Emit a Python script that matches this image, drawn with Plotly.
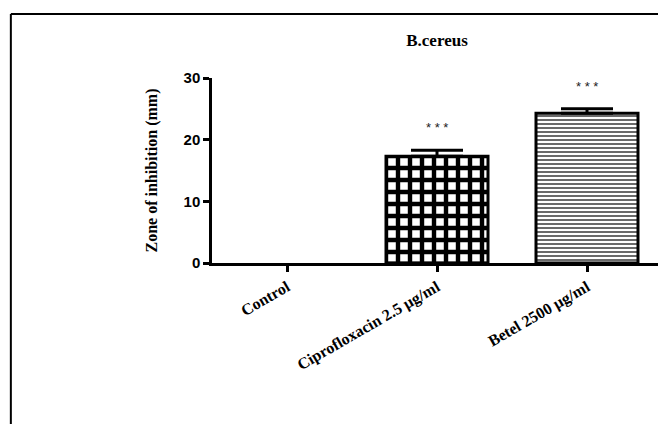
import plotly.graph_objects as go

categories = ["Control", "Ciprofloxacin 2.5 µg/ml", "Betel 2500 µg/ml"]
means = [0, 17.3, 24.3]
errors = [0, 1.0, 0.7]
stars = ["", "* * *", "* * *"]
y_ticks = [0, 10, 20, 30]
title_text = "B.cereus"
y_label = "Zone of inhibition (mm)"

patterns = ["", "+", "-"]
pat_fg = ["black", "black", "#3a3a3a"]
pat_size = [8, 12, 4]
pat_sol = [0.3, 0.6, 0.38]

fig = go.Figure()
for i, c in enumerate(categories):
    fig.add_trace(go.Bar(
        x=[c], y=[means[i]],
        width=0.68,
        marker=dict(
            color="white",
            line=dict(color="black", width=3 if means[i] > 0 else 0),
            pattern=dict(shape=patterns[i], fgcolor=pat_fg[i], bgcolor="white",
                         fgopacity=1, size=pat_size[i], solidity=pat_sol[i],
                         fillmode="overlay"),
        ),
        error_y=dict(type="data", symmetric=False, array=[errors[i]], arrayminus=[0],
                     color="black", thickness=3, width=26, visible=means[i] > 0),
        showlegend=False,
        hoverinfo="skip",
    ))

for i, c in enumerate(categories):
    if stars[i]:
        fig.add_annotation(x=c, y=means[i] + errors[i], text=stars[i], showarrow=False,
                           yanchor="bottom", yshift=13,
                           font=dict(family="Liberation Sans", size=13, color="#222222"))

# outer frame (top and left edges visible)
fig.add_shape(type="line", xref="paper", yref="paper", x0=-0.447, x1=1.05, y0=1.346, y1=1.346,
              line=dict(color="black", width=2))
fig.add_shape(type="line", xref="paper", yref="paper", x0=-0.447, x1=-0.447, y0=1.346, y1=-0.95,
              line=dict(color="black", width=2))

W, H = 658, 416
fig.update_layout(
    width=W, height=H,
    margin=dict(l=204, r=4, t=70, b=161),
    paper_bgcolor="white", plot_bgcolor="white",
    title=dict(text="<b>" + title_text + "</b>", x=429 / W, xanchor="center",
               y=1 - 32 / H, yanchor="middle",
               font=dict(family="Liberation Serif", size=17, color="black")),
    xaxis=dict(
        range=[-0.5, 2.5], showline=True, linecolor="black", linewidth=2.5,
        ticks="outside", ticklen=6, tickwidth=2.5, tickcolor="black",
        tickangle=-30, showgrid=False, zeroline=False,
        tickfont=dict(family="Liberation Serif", size=16, color="black"),
        ticktext=["<b>" + c + "</b>" for c in categories], tickvals=categories,
    ),
    yaxis=dict(
        range=[0, 30], tickvals=y_ticks, showline=True, linecolor="black", linewidth=2.5,
        ticks="outside", ticklen=6, tickwidth=2.5, tickcolor="black",
        showgrid=False, zeroline=False,
        tickfont=dict(family="Liberation Sans", size=15, color="black"),
        ticktext=["<b>%d</b>" % t for t in y_ticks],
        title=dict(text="<b>" + y_label + "</b>", standoff=22,
                   font=dict(family="Liberation Serif", size=16, color="black")),
    ),
)

fig.write_html("out.html")
